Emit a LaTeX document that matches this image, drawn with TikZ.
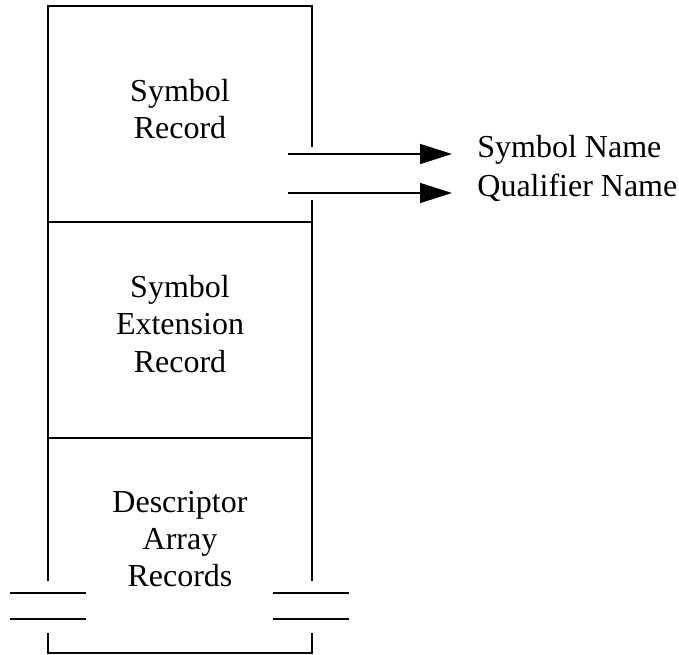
\documentclass[tikz,border=0pt]{standalone}
\usepackage{fontspec}
\setmainfont{Liberation Serif}
\usetikzlibrary{arrows.meta}

\tikzset{
  rec/.style={align=center, font=\fontsize{24}{28}\selectfont, inner sep=0pt},
  field/.style={anchor=west, font=\fontsize{24}{28}\selectfont, inner xsep=18.5pt, inner ysep=0pt,
    text height=0.7em, text depth=0.25em},
  ptr/.style={-{Triangle[length=24pt,width=15pt]}}
}

\begin{document}
\begin{tikzpicture}[x=0.75pt, y=-0.75pt, line width=1.1pt]
      \useasboundingbox (0,0) rectangle (679,654);

      % Draw the outline of the records
      \draw (48,581) -- (48,6) -- (312,6) -- (312,147);
      \draw (312,200) -- (312,581);
      \draw (48,222) -- (312,222);
      \draw (48,438) -- (312,438);

      % Draw the break marks
      \foreach \y in {593,619}
        \draw (10,\y) -- (86,\y) (273,\y) -- (349,\y);
      \draw (48,633) -- (48,653) -- (312,653) -- (312,633);

      % Record labels
      \node[rec] (symrec) at (180,109) {Symbol\\Record};
      \node[rec] (extrec) at (180,324) {Symbol\\Extension\\Record};
      \node[rec] (descrec) at (180,539) {Descriptor\\Array\\Records};

      % Name fields
      \node[field] (symname) at (452,154) {Symbol Name};
      \node[field] (qualname) at (452,193) {Qualifier Name};
      \coordinate (symptr) at (288,154);
      \coordinate (qualptr) at (288,193);

      % Draw the pointers
      \draw[ptr] (symptr) -- (symname.west);
      \draw[ptr] (qualptr) -- (qualname.west);
    \end{tikzpicture}
\end{document}
